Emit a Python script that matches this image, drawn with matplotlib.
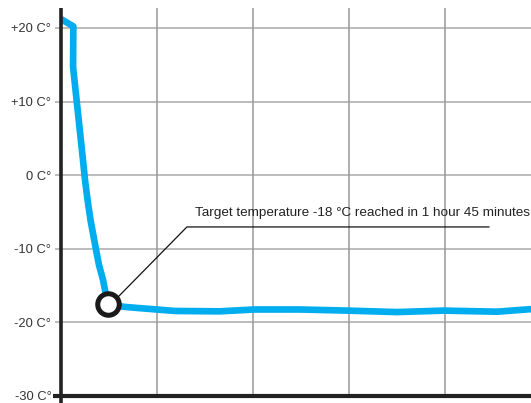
import matplotlib
matplotlib.use("Agg")
import matplotlib.pyplot as plt

# freezing curve, time in hours, temperature in C
time_h = [0.0, 0.45, 0.44, 0.80, 0.875, 0.97, 1.076, 1.28, 1.385, 1.53, 1.62, 1.73,
          1.93, 2.33, 2.81, 4.16, 5.80, 7.04, 8.71, 10.43, 12.25, 13.96, 15.9, 17.14]
temp_c = [21.2, 20.2, 14.7, 2.1, -0.65, -3.4, -6.1, -10.2, -12.2, -14.2, -15.9, -17.5,
          -17.7, -17.9, -18.05, -18.45, -18.5, -18.25, -18.25, -18.4, -18.6, -18.4, -18.55, -18.2]

y_ticks = [-30, -20, -10, 0, 10, 20]
y_labels = ['-30 C°', '-20 C°', '-10 C°', '0 C°', '+10 C°', '+20 C°']
x_grid = [3.5, 7.0, 10.5, 14.0]

target_time = 1.73
target_temp = -17.5
note = 'Target temperature -18 °C reached in 1 hour 45 minutes'

plt.rcParams['font.family'] = ['Liberation Sans', 'DejaVu Sans']

fig = plt.figure(figsize=(5.31, 4.03), dpi=100)
ax = fig.add_axes([61/531, 7/403, 470/531, 388/403])
ax.set_xlim(0, 470/96*3.5)
ax.set_ylim(-30, 22.7)

for s in ax.spines.values():
    s.set_visible(False)

# grid
for y in y_ticks[1:]:
    ax.axhline(y, color='#aaaaaa', lw=1.1, zorder=1)
for x in x_grid:
    ax.axvline(x, color='#999999', lw=1.1, zorder=1)

ax.set_xticks([])
ax.set_yticks(y_ticks)
ax.set_yticklabels(y_labels)
ax.tick_params(axis='y', length=4, width=1.1, color='#aaaaaa', pad=3,
               labelsize=9.3, labelcolor='#333333')

# axes lines, slightly past the corner
ax.plot([0, 0], [-0.02, 1.0], transform=ax.transAxes, color='#222222',
        lw=2.6, clip_on=False, zorder=5, solid_capstyle='butt')
ax.plot([-0.017, 1.0], [0, 0], transform=ax.transAxes, color='#222222',
        lw=3.0, clip_on=False, zorder=5, solid_capstyle='butt')

ax.plot(time_h, temp_c, color='#00aeef', lw=4.8, zorder=3,
        solid_joinstyle='round', solid_capstyle='butt')

# target marker and callout
ax.plot([target_time], [target_temp], marker='o', ms=15.5, mfc='white',
        mec='#1a1a1a', mew=3.6, zorder=4)
ax.plot([2.08, 4.59, 15.6], [-16.55, -7.04, -7.04], color='#111111', lw=0.9, zorder=4)
ax.text(4.89, -5.14, note, fontsize=9.7, color='#222222', va='center', ha='left',
        clip_on=False)

fig.savefig('out.png', dpi=100)
